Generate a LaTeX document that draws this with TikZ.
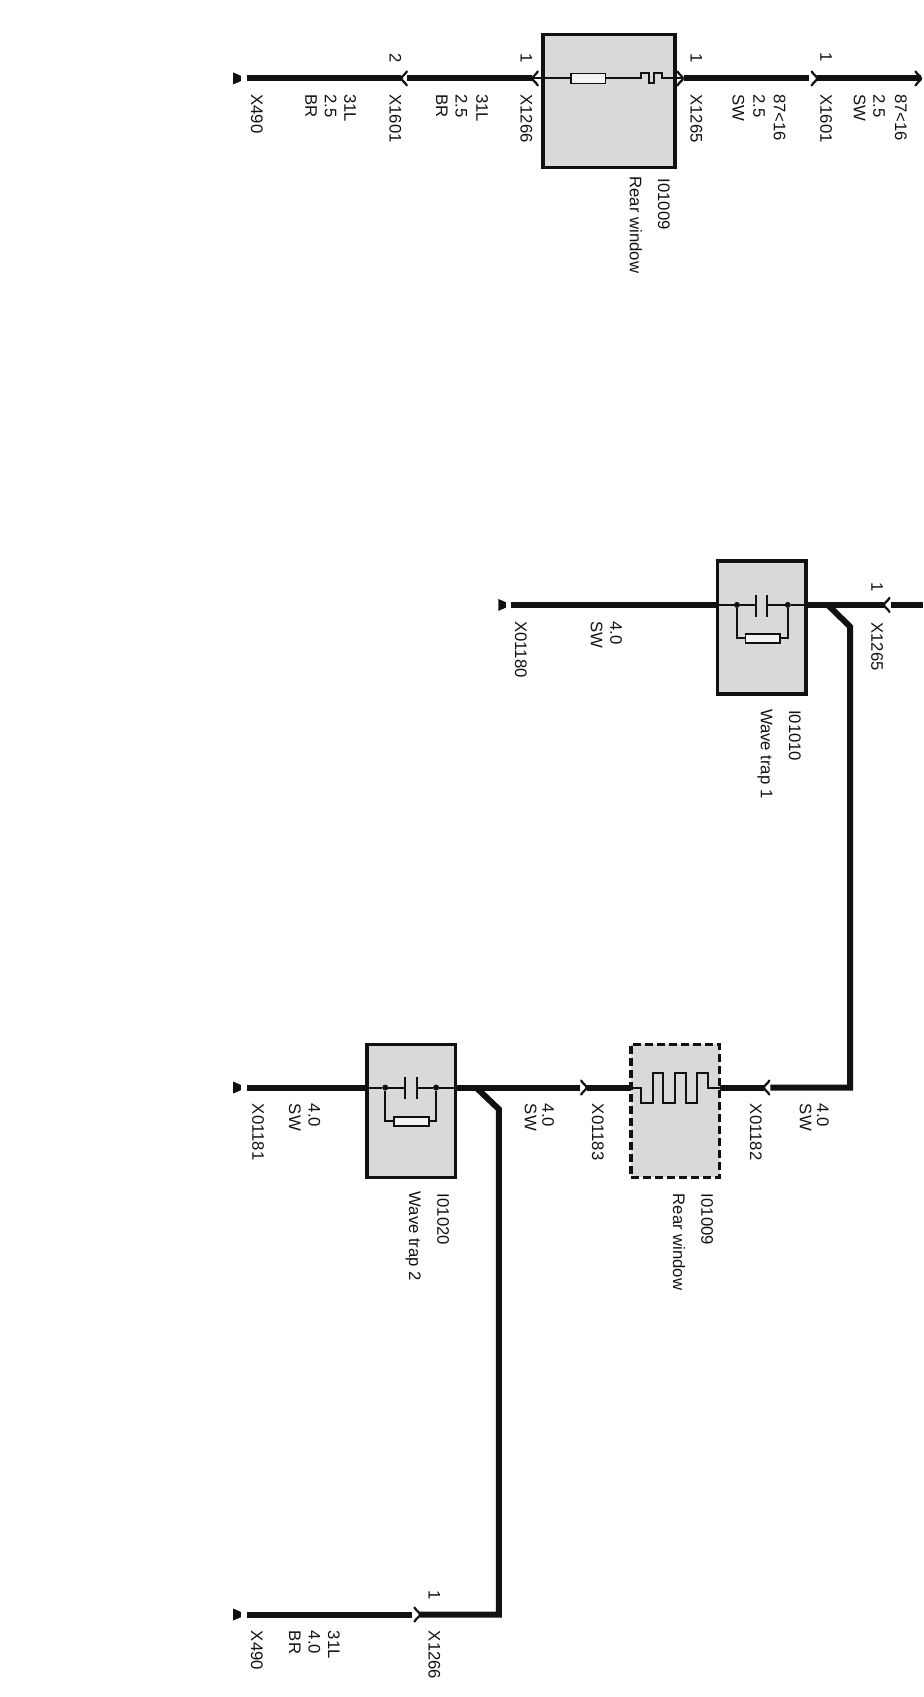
\documentclass[tikz,border=0pt]{standalone}
\usepackage{fontspec}
\setmainfont{Liberation Sans}
\definecolor{ink}{HTML}{111111}
\definecolor{boxgray}{HTML}{D9D9D9}
\tikzset{
  wire/.style={draw=ink,line width=6pt,line join=miter},
  thin wire/.style={draw=ink,line width=2pt},
  plug/.style={draw=ink,line width=2.2pt,line cap=round},
  unit/.style={draw=ink,line width=3.6pt,fill=boxgray,minimum width=88.7pt,minimum height=133pt,outer sep=0pt,inner sep=0pt},
  bigunit/.style={unit,minimum width=132pt},
  res/.style={draw=ink,line width=1.8pt,fill=boxgray!30,outer sep=0pt,inner sep=0pt},
  lab/.style={rotate=-90,anchor=west,inner sep=0pt,yshift=1.8pt,text=ink,font=\fontsize{16.7pt}{17pt}\selectfont,text height=12pt,text depth=0pt},
  dot/.style={circle,fill=ink,inner sep=0pt,minimum size=6pt},
}
\newcommand{\plugleft}[1]{\draw[plug] ([shift={(5,-6.5)}]#1) .. controls ([shift={(3,-3)}]#1) and ([shift={(0,-2)}]#1) .. (#1) .. controls ([shift={(0,2)}]#1) and ([shift={(3,3)}]#1) .. ([shift={(5,6.5)}]#1);}
\newcommand{\plugright}[1]{\draw[plug] ([shift={(-5,-6.5)}]#1) .. controls ([shift={(-3,-3)}]#1) and ([shift={(0,-2)}]#1) .. (#1) .. controls ([shift={(0,2)}]#1) and ([shift={(-3,3)}]#1) .. ([shift={(-5,6.5)}]#1);}
\newcommand{\earth}[1]{\fill[ink] ([shift={(-3.5,-5.5)}]#1) -- ([shift={(-3.5,5.5)}]#1) -- ([shift={(3.5,2.5)}]#1) -- ([shift={(3.5,-2.5)}]#1) -- cycle;}
\begin{document}
\begin{tikzpicture}[x=1.0821pt,y=-1.0821pt]
\useasboundingbox (0,0) rectangle (853,1568.2);
% ---------- units
\node[bigunit] (B1) at (563,93.5) {};
\node[unit] (B2) at (704,580) {};
\node[unit,dash pattern=on 8pt off 4pt] (B3) at (624,1026.5) {};
\node[unit] (B4) at (380,1026.5) {};
% ---------- top row
\coordinate (g1) at (219,72.5);
\coordinate (w1a) at (228,72.5);
\coordinate (p1) at (371,72.5);
\coordinate (w1b) at (376,72.5);
\coordinate (p2) at (492,72.5);
\coordinate (w1c) at (497,72.5);
\coordinate (b1l) at (502,72.5);
\coordinate (b1r) at (624,72.5);
\coordinate (p3) at (631,72.5);
\coordinate (w1d) at (632,72.5);
\coordinate (w1e) at (748,72.5);
\coordinate (p4) at (755,72.5);
\coordinate (p5) at (851,72.5);
\earth{g1}
\draw[wire] (w1a) -- (p1);
\draw[wire] (w1b) -- (p2);
\draw[wire] (w1d) -- (w1e);
\draw[wire] (p4) -- (p5);
\draw[thin wire] (p2) -- (b1l);
\plugleft{p1}\plugleft{p2}
\plugright{p3}\plugright{p4}
\plugright{p5}
\node[res,minimum width=34.6pt,minimum height=10pt] (R1) at (543.5,72.5) {};
\draw[thin wire] (b1l) -- (R1.west);
\draw[thin wire] (R1.east) -- (592,72.5) -- (592,67) -- (600,67) -- (600,77) -- (604,77) -- (604,67) -- (612,67) -- (612,72.5) -- (b1r) -- (p3);
% labels top row
\node[lab] (t1) at (236,87) {X490};
\node[lab] (t2) at (322,87) {31L};
\node[lab] (t3) at (304,87) {2.5};
\node[lab] (t4) at (286,87) {BR};
\node[lab] (t5) at (364,87) {X1601};
\node[lab] (t6) at (364,49) {2};
\node[lab] (t7) at (444,87) {31L};
\node[lab] (t8) at (425,87) {2.5};
\node[lab] (t9) at (407,87) {BR};
\node[lab] (t10) at (485,87) {X1266};
\node[lab] (t11) at (485,49) {1};
\node[lab] (t12) at (642,87) {X1265};
\node[lab] (t13) at (642,49) {1};
\node[lab] (t14) at (719,87) {87<16};
\node[lab] (t15) at (700,87) {2.5};
\node[lab] (t16) at (681,87) {SW};
\node[lab] (t17) at (762,87) {X1601};
\node[lab] (t18) at (762,48) {1};
\node[lab] (t19) at (831,87) {87<16};
\node[lab] (t20) at (811,87) {2.5};
\node[lab] (t21) at (793,87) {SW};
\node[lab] (t22) at (612,165) {I01009};
\node[lab] (t23) at (586,163) {Rear window};
% ---------- second row
\coordinate (g2) at (464,559);
\coordinate (w2a) at (472,559);
\coordinate (b2l) at (663,559);
\coordinate (b2r) at (745,559);
\coordinate (j1) at (765,559);
\coordinate (e1) at (785.5,579);
\coordinate (p6) at (817,559);
\coordinate (w2b) at (823,559);
\coordinate (w2c) at (853,559);
\coordinate (c3) at (785.5,1005);
\earth{g2}
\draw[wire] (w2a) -- (b2l);
\draw[wire] (b2r) -- (p6);
\draw[wire] (w2b) -- (w2c);
\plugleft{p6}
\draw[wire,line cap=butt] (j1) -- (e1) -- (c3) -- (712,1005) coordinate (w3a);
\node[dot] (d1) at (681,559) {};
\node[dot] (d2) at (728,559) {};
\coordinate (c1t) at (698.5,550);
\coordinate (c1b) at (698.5,570);
\coordinate (c2t) at (709,550);
\coordinate (c2b) at (709,570);
\draw[thin wire] (b2l) -- (d1) -- (c1t |- d1);
\draw[thin wire] (c2t |- d2) -- (d2) -- (b2r);
\draw[thin wire] (c1t) -- (c1b);
\draw[thin wire] (c2t) -- (c2b);
\node[res,minimum width=34.8pt,minimum height=9pt] (R2) at (705,590) {};
\draw[thin wire] (d1) |- (R2.west);
\draw[thin wire] (d2) |- (R2.east);
\node[lab] (t24) at (480,574) {X01180};
\node[lab] (t25) at (568,574) {4.0};
\node[lab] (t26) at (550,574) {SW};
\node[lab] (t27) at (809,575) {X1265};
\node[lab] (t28) at (809,538) {1};
\node[lab] (t29) at (733,656) {I01010};
\node[lab] (t30) at (707,655) {Wave trap 1};
% ---------- third row
\coordinate (p7) at (706,1005);
\coordinate (b3r) at (665,1005);
\coordinate (b3l) at (583,1005);
\coordinate (p8) at (542,1005);
\coordinate (w3b) at (536,1005);
\coordinate (b4r) at (421,1005);
\coordinate (b4l) at (339,1005);
\coordinate (j2) at (440,1005);
\coordinate (e2) at (461,1025);
\coordinate (c4) at (461,1492);
\coordinate (g3) at (219,1005);
\coordinate (w3c) at (228,1005);
\draw[wire] (p7) -- (b3r);
\draw[wire] (b3l) -- (p8);
\draw[wire] (w3b) -- (b4r);
\draw[wire] (b4l) -- (w3c);
\earth{g3}
\plugleft{p7}\plugright{p8}
\draw[thin wire] (b3r) -- (654,1005) -- (654,992) -- (644,992) -- (644,1019) -- (634,1019) -- (634,992) -- (623.5,992) -- (623.5,1019) -- (613,1019) -- (613,992) -- (603,992) -- (603,1019) -- (592,1019) -- (592,1005) -- (b3l);
\node[dot] (d3) at (356,1005) {};
\node[dot] (d4) at (403,1005) {};
\coordinate (c3t) at (374,995);
\coordinate (c3b) at (374,1016);
\coordinate (c4t) at (385,995);
\coordinate (c4b) at (385,1016);
\draw[thin wire] (b4l) -- (d3) -- (c3t |- d3);
\draw[thin wire] (c4t |- d4) -- (d4) -- (b4r);
\draw[thin wire] (c3t) -- (c3b);
\draw[thin wire] (c4t) -- (c4b);
\node[res,minimum width=35pt,minimum height=9pt] (R3) at (380,1036) {};
\draw[thin wire] (d3) |- (R3.west);
\draw[thin wire] (d4) |- (R3.east);
\node[lab] (t31) at (237,1020) {X01181};
\node[lab] (t32) at (289,1020) {4.0};
\node[lab] (t33) at (271,1020) {SW};
\node[lab] (t34) at (505,1020) {4.0};
\node[lab] (t35) at (489,1020) {SW};
\node[lab] (t36) at (551,1020) {X01183};
\node[lab] (t37) at (697,1020) {X01182};
\node[lab] (t38) at (759,1020) {4.0};
\node[lab] (t39) at (743,1020) {SW};
\node[lab] (t40) at (408,1103) {I01020};
\node[lab] (t41) at (382,1101) {Wave trap 2};
\node[lab] (t42) at (652,1103) {I01009};
\node[lab] (t43) at (626,1103) {Rear window};
% ---------- bottom row
\coordinate (p9) at (388,1492);
\coordinate (w4a) at (381,1492);
\coordinate (w4b) at (228,1492);
\coordinate (g4) at (219,1492);
\draw[wire,line cap=butt] (j2) -- (e2) -- (c4) -- (p9);
\draw[wire] (w4a) -- (w4b);
\earth{g4}
\plugright{p9}
\node[lab] (t44) at (236,1507) {X490};
\node[lab] (t45) at (307,1507) {31L};
\node[lab] (t46) at (289,1507) {4.0};
\node[lab] (t47) at (271,1507) {BR};
\node[lab] (t48) at (400,1507) {X1266};
\node[lab] (t49) at (400,1470) {1};
\end{tikzpicture}
\end{document}
